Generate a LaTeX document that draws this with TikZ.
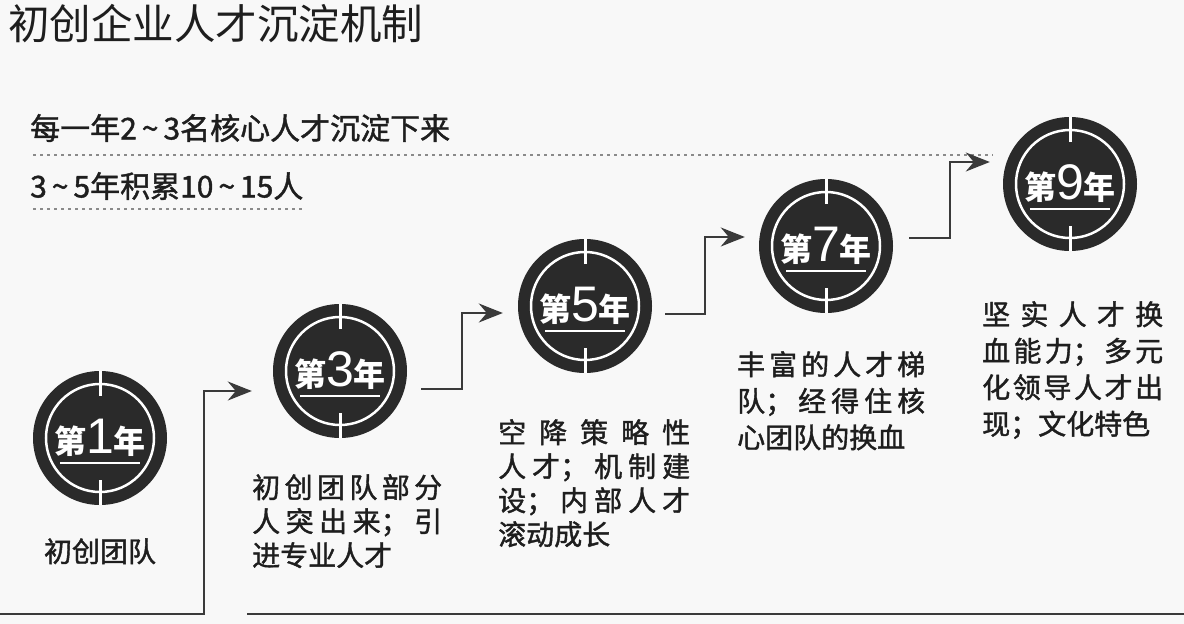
\documentclass[tikz,border=0pt]{standalone}
\usepackage{fontspec}
\setmainfont{Noto Sans CJK SC}
\newfontfamily\notefont{Noto Sans CJK SC}[FakeBold=1.4]
\newfontfamily\digitfont{Liberation Sans}
\usepackage{tikz}
\usetikzlibrary{positioning}
\usetikzlibrary{calc}
\usetikzlibrary{arrows.meta}
\XeTeXlinebreaklocale "zh"
\XeTeXlinebreakskip=0pt plus 30pt

\definecolor{ringdark}{HTML}{2A2A2A}
\definecolor{linegray}{HTML}{3A3A3A}
\definecolor{dotgray}{HTML}{8A8A8A}
\definecolor{paper}{HTML}{F8F8F8}
\definecolor{inkgray}{HTML}{1E1E1E}

\newcommand{\yearmark}[1]{第{\digitfont\fontsize{50}{50}\selectfont\mdseries #1}年}

\begin{document}
\begin{tikzpicture}[
		x=1pt, y=-1pt,
		yearbox/.style = {
			circle,
			fill=ringdark,
			minimum size=134pt,
			inner sep=0pt,
			text=white,
			font=\fontsize{32}{32}\selectfont\bfseries,
			path picture={
				\draw[white, line width=2.5pt] (path picture bounding box.center) circle (54pt);
				\draw[white, line width=3pt] ($(path picture bounding box.center)+(0pt,42pt)$) -- ++(0pt,30pt);
				\draw[white, line width=3pt] ($(path picture bounding box.center)+(0pt,-42pt)$) -- ++(0pt,-30pt);
				\draw[white, line width=2.5pt] ($(path picture bounding box.center)+(-40pt,-25pt)$) -- ++(80pt,0pt);
			}
		},
		stepnote/.style = {
			anchor=north west,
			inner sep=0pt,
			text width=190pt,
			align=justify,
			text=inkgray,
			font=\notefont\fontsize{28}{35}\selectfont
		},
		headnote/.style = {
			anchor=west,
			inner sep=0pt,
			text=inkgray,
			font=\notefont\fontsize{30}{30}\selectfont
		},
		flow/.style = {
			draw=linegray,
			line width=2pt,
			-{Stealth[length=24pt, width=19pt, inset=8pt]}
		},
		groundline/.style = {
			draw=linegray,
			line width=2pt
		},
		dotrule/.style = {
			draw=dotgray,
			line width=1.5pt,
			dash pattern=on 3pt off 4pt
		}
		]
		\useasboundingbox (0,0) rectangle (1184,624);
		\fill[paper] (0,0) rectangle (1184,624);

		% title and yearly notes
		\node[anchor=west, inner sep=0pt, text=inkgray, font=\fontsize{41.5}{41.5}\selectfont] (title) at (8,24) {初创企业人才沉淀机制};
		\node[headnote] (perYear) at (30,128) {每一年2\,\textasciitilde\,3名核心人才沉淀下来};
		\node[headnote] (perSpan) at (30,186) {3\,\textasciitilde\,5年积累10\,\textasciitilde\,15人};
		\draw[dotrule] (33,155) -- (993,155);
		\draw[dotrule] (33,209) -- (303,209);

		% year circles
		\node[yearbox] (c1) at (100,438) {\yearmark{1}};
		\node[yearbox] (c3) at (340,371) {\yearmark{3}};
		\node[yearbox] (c5) at (585,306) {\yearmark{5}};
		\node[yearbox] (c7) at (826,246) {\yearmark{7}};
		\node[yearbox] (c9) at (1070,184) {\yearmark{9}};

		% texts under the circles
		\node[below=33pt of c1, inner sep=0pt, text=inkgray, font=\notefont\fontsize{28}{35}\selectfont] (t1) {初创团队};
		\node[stepnote, font=\notefont\fontsize{28}{34}\selectfont] (t3) at (252,474) {初创团队部分\linebreak 人突出来；引\linebreak 进专业人才};
		\node[stepnote, text width=192pt, font=\notefont\fontsize{28}{34}\selectfont] (t5) at (498,419) {空降策略性\linebreak 人才；机制建\linebreak 设；内部人才\linebreak 滚动成长};
		\node[stepnote, text width=188pt, font=\notefont\fontsize{28}{36.5}\selectfont] (t7) at (737,351) {丰富的人才梯\linebreak 队；经得住核\linebreak 心团队的换血};
		\node[stepnote, text width=181pt, font=\notefont\fontsize{28}{36.5}\selectfont] (t9) at (982,301) {坚实人才换\linebreak 血能力；多元\linebreak 化领导人才出\linebreak 现；文化特色};

		% connectors
		\coordinate (base) at (0,614);
		\coordinate (bend) at (204,614);
		\coordinate (in3) at ($(c3.west)+(-21pt,-20pt)$);
		\coordinate (out3) at ($(c3.east)+(14pt,-18pt)$);
		\coordinate (in5) at ($(c5.west)+(-15pt,-7pt)$);
		\coordinate (out5) at ($(c5.east)+(13pt,-8pt)$);
		\coordinate (in7) at ($(c7.west)+(-14pt,9pt)$);
		\coordinate (out7) at ($(c7.east)+(16pt,8pt)$);
		\coordinate (in9) at ($(c9.west)+(-13pt,22pt)$);

		\draw[flow] (base) -- (bend) |- (in3);
		\draw[flow] (out3) -| ($(out3)!0.5!(in5)$) |- (in5);
		\draw[flow] (out5) -| ($(out5)!0.5!(in7)$) |- (in7);
		\draw[flow] (out7) -| ($(out7)!0.5!(in9)$) |- (in9);
		\draw[groundline] (247,614) -- (1184,614);
	\end{tikzpicture}
\end{document}
